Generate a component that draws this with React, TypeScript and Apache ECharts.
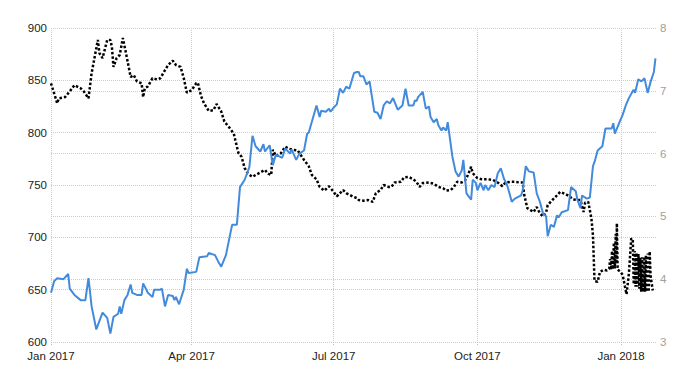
import React, { useEffect, useRef } from "react";
import * as echarts from "echarts";

// x positions are days since 1 Jan 2017
const xTickDays = [0, 90, 181, 273, 365];
const xTickLabels = ["Jan 2017", "Apr 2017", "Jul 2017", "Oct 2017", "Jan 2018"];

// Blue series (left axis)
const blueDays = [0,2,4,8,11,12,15,19,22,24,26,29,33,36,38,40,43,44,45,47,49,51,52,55,58,59,62,65,66,70,71,73,75,78,79,80,82,85,87,88,93,95,100,101,105,107,109,112,115,116,119,121,124,127,129,131,134,136,137,140,142,144,148,150,153,154,157,159,162,164,165,170,172,173,176,178,179,181,183,185,187,189,191,194,196,197,198,200,202,204,205,207,209,211,213,215,217,219,222,225,227,229,232,233,234,235,238,240,242,243,245,247,248,250,251,253,254,257,259,261,263,264,266,269,270,272,273,275,277,278,280,282,284,286,288,290,292,293,295,297,301,302,304,306,309,311,313,315,317,318,320,322,324,325,327,331,333,336,337,339,340,343,345,347,348,350,353,355,359,360,361,364,366,368,370,373,374,376,378,380,382,384,386,387];
const blueValues = [647,658,661,660,665,651,645,640,640,661,634,612,628,623,608,624,627,634,627,640,645,655,647,645,645,656,647,643,650,650,651,634,645,644,640,643,636,650,670,666,667,681,682,685,683,677,672,683,705,712,712,748,755,767,797,787,782,789,782,788,769,779,776,785,780,784,774,780,783,799,800,826,815,821,820,823,820,824,827,842,838,844,842,857,858,858,854,854,846,849,839,820,819,813,826,830,828,833,822,826,842,826,826,831,830,834,839,823,825,815,810,813,807,802,805,802,810,777,763,758,764,774,742,736,755,752,745,752,745,750,745,750,748,761,766,756,750,745,734,737,740,745,768,763,762,742,734,723,720,701,712,710,721,719,724,726,748,744,736,728,740,737,738,768,772,783,787,804,804,809,799,810,817,826,833,841,838,851,849,852,838,849,858,871];

// Black dotted series (right axis)
const blackDays = [0,2,4,5,9,12,15,19,21,24,26,30,31,33,36,38,39,40,42,44,46,48,51,53,55,58,59,60,62,65,68,70,73,75,78,80,83,85,87,90,93,94,96,98,101,104,106,109,111,114,117,120,122,124,126,129,131,134,137,139,141,142,144,147,150,152,155,158,162,165,167,170,172,175,178,181,183,187,189,193,196,197,200,203,206,208,211,213,216,218,220,224,226,229,232,234,236,238,242,245,248,251,253,256,258,260,263,265,267,269,270,273,276,280,283,286,289,291,294,297,300,302,303,305,307,309,311,313,315,317,318,321,323,326,329,332,334,337,339,341,342,344,346,347,348,350,351.5,354,356,357.4,358.0,358.6,359.2,359.8,360.4,361.0,361.6,362.0,362.3,362.8,364.5,366,367.5,368.5,370,371.5,372.5,373.1,373.7,374.3,374.9,375.5,376.1,376.7,377.3,377.9,378.5,379.1,379.7,380.3,380.9,381.5,382.1,382.7,383.3,383.9,385.3,386.8];
const blackValues = [7.12,6.96,6.80,6.88,6.90,6.99,7.09,7.04,6.99,6.88,7.28,7.81,7.60,7.52,7.81,7.81,7.70,7.38,7.52,7.57,7.84,7.60,7.22,7.25,7.15,7.12,6.90,7.04,7.07,7.20,7.18,7.20,7.33,7.41,7.48,7.41,7.38,7.20,6.97,7.01,7.12,7.13,6.92,6.80,6.68,6.69,6.79,6.67,6.51,6.42,6.32,6.01,5.95,5.77,5.68,5.63,5.66,5.70,5.74,5.68,5.66,6.06,5.96,6.00,6.11,6.08,6.06,6.05,5.90,5.80,5.66,5.59,5.47,5.41,5.48,5.39,5.32,5.42,5.37,5.32,5.29,5.26,5.25,5.26,5.23,5.37,5.42,5.50,5.47,5.47,5.54,5.55,5.62,5.63,5.59,5.55,5.47,5.53,5.54,5.52,5.47,5.45,5.41,5.42,5.47,5.55,5.54,5.57,5.66,5.79,5.69,5.61,5.59,5.59,5.58,5.54,5.48,5.54,5.55,5.55,5.54,5.54,5.34,5.13,5.10,5.07,5.15,5.05,5.00,5.06,5.18,5.26,5.31,5.39,5.36,5.32,5.27,5.26,5.26,5.07,5.22,5.23,4.97,4.70,3.97,3.96,4.12,4.15,4.14,4.17,4.32,4.15,4.45,4.16,4.58,4.17,4.72,4.25,4.89,4.15,4.12,4.07,3.88,3.76,4.09,4.65,4.63,3.92,4.45,3.88,4.42,3.88,4.40,3.85,4.34,3.80,4.35,3.80,4.36,3.80,4.38,3.80,4.41,3.80,4.44,4.05,3.82];

const gridLine = { show: true, lineStyle: { color: "#cccccc", type: "dotted" as const, width: 1 } };

export default function App() {
  const ref = useRef<HTMLDivElement>(null);
  useEffect(() => {
    if (!ref.current) return;
    const chart = echarts.init(ref.current, null, { renderer: "svg" });
    chart.setOption({
      animation: false,
      backgroundColor: "#ffffff",
      grid: { left: 51, right: 43, top: 28, bottom: 33, containLabel: false },
      xAxis: {
        type: "value",
        min: 0,
        max: 388,
        axisLine: { show: false },
        axisTick: {
          show: true,
          length: 4,
          customValues: xTickDays,
          lineStyle: { color: "#bbbbbb", type: "dotted" },
        },
        axisLabel: {
          customValues: xTickDays,
          margin: 8,
          color: "#222222",
          fontSize: 11.5,
          fontFamily: "Liberation Sans",
          formatter: (v: number) => {
            const i = xTickDays.indexOf(Math.round(v));
            return i >= 0 ? xTickLabels[i] : "";
          },
        },
        splitLine: gridLine,
      },
      yAxis: [
        {
          type: "value",
          min: 600,
          max: 900,
          interval: 50,
          position: "left",
          axisLine: { show: false },
          axisTick: { show: false },
          axisLabel: { margin: 4, color: "#222222", fontSize: 11.5, fontFamily: "Liberation Sans" },
          splitLine: gridLine,
        },
        {
          type: "value",
          min: 3,
          max: 8,
          interval: 1,
          position: "right",
          axisLine: { show: false },
          axisTick: { show: false },
          axisLabel: { margin: 3, color: "#a0a0a0", fontSize: 11.5, fontFamily: "Liberation Sans" },
          splitLine: gridLine,
        },
      ],
      series: [
        {
          type: "line",
          yAxisIndex: 1,
          data: blackDays.map((d, i) => [d, blackValues[i]]),
          symbol: "none",
          lineStyle: { color: "#000000", width: 2.5, type: [2.5, 2] },
          z: 2,
        },
        {
          type: "line",
          yAxisIndex: 0,
          data: blueDays.map((d, i) => [d, blueValues[i]]),
          symbol: "none",
          lineStyle: { color: "#428bdc", width: 2 },
          z: 3,
        },
      ],
    });
    return () => chart.dispose();
  }, []);
  return <div ref={ref} style={{ width: 700, height: 375, position: "absolute", left: 0, top: 0 }} />;
}
